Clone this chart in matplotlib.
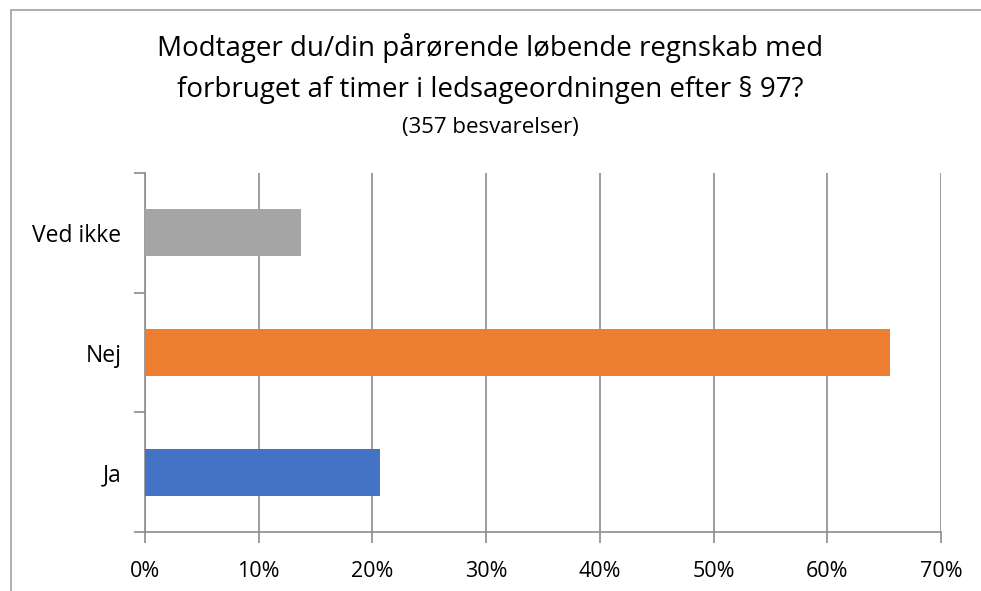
import matplotlib
matplotlib.use("Agg")
import matplotlib.pyplot as plt
from matplotlib.patches import Rectangle
from matplotlib.ticker import FuncFormatter, MultipleLocator

categories = ["Ja", "Nej", "Ved ikke"]
values = [20.7, 65.5, 13.7]
colors = ["#4472C4", "#ED7D31", "#A5A5A5"]
title_lines = ["Modtager du/din pårørende løbende regnskab med",
               "forbruget af timer i ledsageordningen efter § 97?"]
subtitle = "(357 besvarelser)"

plt.rcParams['font.family'] = ['Open Sans', 'DejaVu Sans']

W, H = 981, 591
fig = plt.figure(figsize=(W/100, H/100), dpi=100)
fig.patch.set_facecolor("white")

# outer chart border (partially cropped)
fig.add_artist(Rectangle((11/W, -0.1), 1.2, (H-10)/H + 0.1, transform=fig.transFigure,
                         fill=False, edgecolor="#A0A0A0", linewidth=1.2))

ax = fig.add_axes([145/W, (H-532)/H, (941-145)/W, (532-173)/H])
y = list(range(len(categories)))
ax.barh(y, values, height=0.39, color=colors, zorder=3)
ax.set_xlim(0, 70)
ax.set_ylim(-0.5, 2.5)
ax.xaxis.set_major_locator(MultipleLocator(10))
ax.xaxis.set_major_formatter(FuncFormatter(lambda v, p: f"{int(round(v))}%"))
ax.set_yticks(y)
ax.set_yticklabels(categories)
ax.set_yticks([-0.5, 0.5, 1.5, 2.5], minor=True)
ax.tick_params(axis='y', which='major', length=0, pad=17, labelsize=16.5)
ax.tick_params(axis='y', which='minor', length=8, color="#8C8C8C", width=1.2)
ax.tick_params(axis='x', which='major', length=8, color="#8C8C8C", width=1.2, labelsize=15.5, pad=13)
ax.grid(axis='x', color="#8C8C8C", linewidth=1.2, zorder=0)
for s in ['top', 'right']:
    ax.spines[s].set_visible(False)
ax.spines['left'].set_color("#8C8C8C")
ax.spines['bottom'].set_color("#8C8C8C")
ax.spines['left'].set_linewidth(1.2)
ax.spines['bottom'].set_linewidth(1.2)

fig.text(0.5, 1 - 48/H, title_lines[0], ha='center', va='center', fontsize=20, color="black")
fig.text(0.5, 1 - 90/H, title_lines[1], ha='center', va='center', fontsize=20, color="black")
fig.text(0.5, 1 - 128/H, subtitle, ha='center', va='center', fontsize=16, color="black")

fig.savefig("out.png", dpi=100)
